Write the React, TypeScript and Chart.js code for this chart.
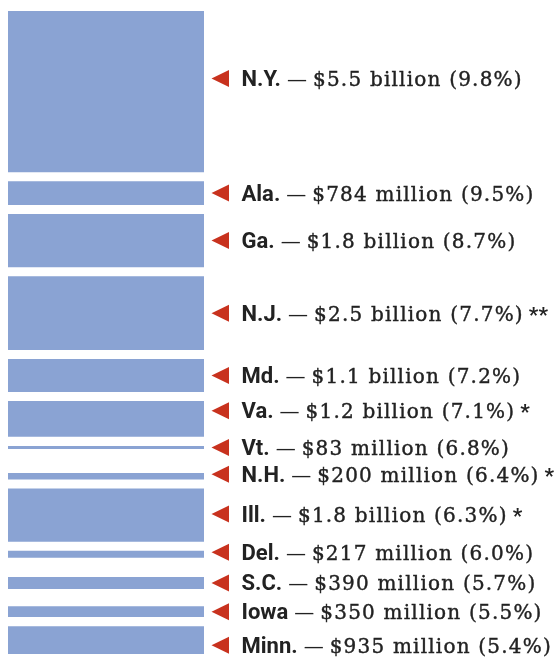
import React, { useEffect, useLayoutEffect, useRef } from "react";
import { Chart, registerables } from "chart.js";

Chart.register(...registerables);

// ---- Data ----
const STATES = ["N.Y.", "Ala.", "Ga.", "N.J.", "Md.", "Va.", "Vt.", "N.H.", "Ill.", "Del.", "S.C.", "Iowa", "Minn."];
const AMOUNTS_M = [5500, 784, 1800, 2500, 1100, 1200, 83, 200, 1800, 217, 390, 350, 935];
const AMOUNT_LABELS = [
  "$5.5 billion", "$784 million", "$1.8 billion", "$2.5 billion", "$1.1 billion", "$1.2 billion",
  "$83 million", "$200 million", "$1.8 billion", "$217 million", "$390 million", "$350 million", "$935 million",
];
const PERCENTS = ["9.8", "9.5", "8.7", "7.7", "7.2", "7.1", "6.8", "6.4", "6.3", "6.0", "5.7", "5.5", "5.4"];
const FOOTNOTES = ["", "", "", "**", "", "*", "", "*", "*", "", "", "", ""];

// ---- Layout / style ----
const PAGE_W = 559;
const PAGE_H = 657;
const CANVAS_W = 551;
const CANVAS_H = 649;
const BAR_W = 196;
const NOMINAL_PX_PER_M = 160 / 5500;
const GAP_M = 9.6 / NOMINAL_PX_PER_M; // gap between bars
const LABEL_SPACING_M = 28.5 / NOMINAL_PX_PER_M; // min distance between label centres
const LABEL_NUDGE: Record<string, number> = { "N.Y.": -13, "Va.": -8, "N.H.": -2, "Ill.": -1, "Del.": -2, "Minn.": 5 };
const BAR_COLOR = "#8AA3D3";
const TRI_COLOR = "#C8321E";
const TEXT_COLOR = "#222222";
const SANS_BOLD = "700 22px Roboto, 'Liberation Sans', sans-serif";
const STAR_FONT = "700 21px Roboto, 'Liberation Sans', sans-serif";
const SERIF = "400 20px 'DejaVu Serif', serif";

function computeLayout() {
  const out: { start: number; end: number }[] = [];
  let prevEnd = -GAP_M;
  let prevCenter = -Infinity;
  AMOUNTS_M.forEach((v) => {
    const start = Math.max(prevEnd + GAP_M, prevCenter + LABEL_SPACING_M - v / 2);
    const end = start + v;
    out.push({ start, end });
    prevEnd = end;
    prevCenter = start + v / 2;
  });
  return out;
}

const labelPlugin = {
  id: "stateLabels",
  afterDraw(chart: any) {
    const { ctx, scales } = chart;
    const y = scales.y;
    const area = chart.chartArea;
    ctx.save();
    chart.data.datasets.forEach((ds: any, i: number) => {
      const [s, e] = ds.data[0];
      const name = STATES[i];
      const cy = y.getPixelForValue((s + e) / 2) + (LABEL_NUDGE[name] || 0);
      // triangle
      const tx = area.right + 7.5;
      ctx.fillStyle = TRI_COLOR;
      ctx.beginPath();
      ctx.moveTo(tx, cy);
      ctx.lineTo(tx + 17.5, cy - 8.5);
      ctx.lineTo(tx + 17.5, cy + 8.5);
      ctx.closePath();
      ctx.fill();
      const base = cy + 7.5;
      let x = tx + 30;
      ctx.fillStyle = TEXT_COLOR;
      ctx.strokeStyle = TEXT_COLOR;
      ctx.textBaseline = "alphabetic";
      ctx.textAlign = "left";
      (ctx as any).letterSpacing = "0px";
      ctx.font = SANS_BOLD;
      ctx.fillText(name, x, base);
      x += ctx.measureText(name).width + 6;
      ctx.font = SERIF;
      ctx.lineWidth = 0.4;
      ctx.fillText("\u2014", x, base);
      x += ctx.measureText("\u2014").width + 6;
      (ctx as any).letterSpacing = "1.2px";
      const rest = `${AMOUNT_LABELS[i]} (${PERCENTS[i]}%)`;
      ctx.fillText(rest, x, base);
      ctx.strokeText(rest, x, base);
      x += ctx.measureText(rest).width + 5;
      (ctx as any).letterSpacing = "0px";
      if (FOOTNOTES[i]) {
        ctx.font = STAR_FONT;
        ctx.fillText(FOOTNOTES[i], x, base + 1);
      }
    });
    ctx.restore();
  },
};

export default function App() {
  const ref = useRef<HTMLCanvasElement | null>(null);
  useLayoutEffect(() => {
    const prev = document.body.style.margin;
    document.body.style.margin = "0";
    return () => {
      document.body.style.margin = prev;
    };
  }, []);
  useEffect(() => {
    if (!ref.current) return;
    const layout = computeLayout();
    const total = layout[layout.length - 1].end;
    const chart = new Chart(ref.current, {
      type: "bar",
      data: {
        labels: [""],
        datasets: STATES.map((s, i) => ({
          label: s,
          data: [[layout[i].start, layout[i].end]] as any,
          backgroundColor: BAR_COLOR,
          borderWidth: 0,
          borderSkipped: false,
          grouped: false,
          barPercentage: 1,
          categoryPercentage: 1,
        })) as any,
      },
      options: {
        animation: false,
        responsive: false,
        maintainAspectRatio: false,
        layout: { padding: { top: 3, bottom: 3, left: 0, right: CANVAS_W - BAR_W } },
        plugins: { legend: { display: false }, tooltip: { enabled: false } },
        scales: {
          x: { display: false, grid: { display: false } },
          y: { display: false, reverse: true, min: 0, max: total, grid: { display: false } },
        },
      },
      plugins: [labelPlugin],
    });
    return () => chart.destroy();
  }, []);
  return (
    <div style={{ width: PAGE_W, height: PAGE_H, boxSizing: "border-box", paddingTop: 8, paddingLeft: 8, overflow: "hidden" }}>
      <canvas ref={ref} width={CANVAS_W} height={CANVAS_H} style={{ display: "block", width: CANVAS_W, height: CANVAS_H }} />
    </div>
  );
}
